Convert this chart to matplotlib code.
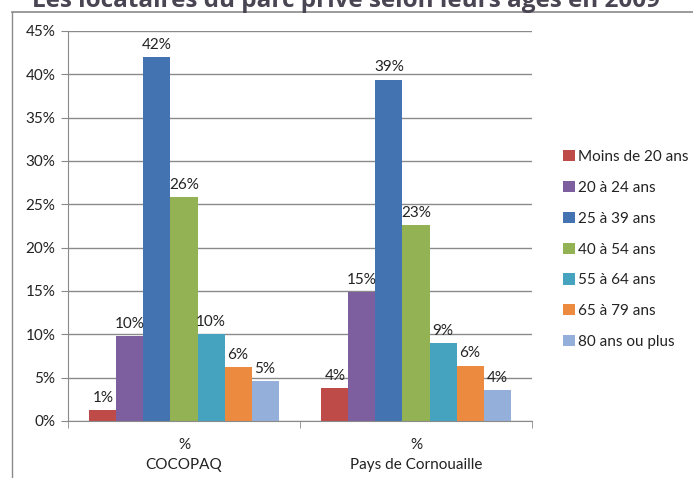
import numpy as np
import matplotlib.pyplot as plt
from matplotlib.lines import Line2D

plt.rcParams['font.family'] = ['Lato', 'DejaVu Sans']

territoires = ['%\nCOCOPAQ', '%\nPays de Cornouaille']
tranches = ['Moins de 20 ans', '20 à 24 ans', '25 à 39 ans', '40 à 54 ans',
            '55 à 64 ans', '65 à 79 ans', '80 ans ou plus']
cocopaq = [1.3, 9.8, 42.0, 25.8, 10.0, 6.2, 4.6]
cornouaille = [3.8, 14.9, 39.4, 22.6, 9.0, 6.4, 3.6]
couleurs = ['#be4b48', '#7d5f9f', '#4373b0', '#93b253', '#45a3c0', '#ec8b3f', '#94b0da']

valeurs = np.array([cocopaq, cornouaille])

W, H = 693, 478
fig = plt.figure(figsize=(W / 100, H / 100), dpi=100)
ax = fig.add_axes([68 / W, 1 - 421 / H, (532 - 68) / W, 390 / H])

larg = 0.1164
x = np.arange(len(territoires))
for i, t in enumerate(tranches):
    pos = x + (i - 3) * larg
    bars = ax.bar(pos, valeurs[:, i], larg, color=couleurs[i], label=t)
    for b, v in zip(bars, valeurs[:, i]):
        ax.text(b.get_x() + b.get_width() / 2, v + 0.6, '{:.0f}%'.format(v),
                ha='center', va='bottom', fontsize=11, color='#222222')

ax.set_ylim(0, 45)
ax.set_xlim(-0.5, 1.5)
ax.set_yticks(np.arange(0, 46, 5))
ax.set_yticklabels(['{}%'.format(v) for v in range(0, 46, 5)], fontsize=11, color='#222222')
ax.yaxis.grid(True, color='#8a8a8a', linewidth=1)
ax.set_axisbelow(True)

ax.set_xticks(x)
ax.set_xticklabels(territoires, fontsize=11, color='#222222', linespacing=1.55)
ax.tick_params(axis='x', length=0, pad=12)
ax.set_xticks([-0.5, 0.5, 1.5], minor=True)
ax.tick_params(axis='x', which='minor', length=5, color='#8a8a8a')
ax.tick_params(axis='y', length=5, color='#8a8a8a', pad=4)

for s in ['top', 'right']:
    ax.spines[s].set_visible(False)
for s in ['left', 'bottom']:
    ax.spines[s].set_color('#8a8a8a')

ax.legend(loc='upper left', bbox_to_anchor=(557 / W, 1 - 144 / H),
          bbox_transform=fig.transFigure, frameon=False, fontsize=11,
          handlelength=0.75, handleheight=0.75, handletextpad=0.25,
          labelspacing=1.1, borderaxespad=0, labelcolor='#222222')

# cadre
fig.add_artist(Line2D([12 / W, 12 / W], [0, 1 - 12 / H], color='#8a8a8a', lw=1))
fig.add_artist(Line2D([12 / W, 1], [1 - 12 / H, 1 - 12 / H], color='#8a8a8a', lw=1.2))

fig.text(0.5, 1 - 7 / H, 'Les locataires du parc privé selon leurs âges en 2009',
         ha='center', va='baseline', fontsize=17.5, fontweight='bold', color='#4a4552',
         family=['Open Sans', 'DejaVu Sans'])

fig.savefig('out.png', dpi=100)
